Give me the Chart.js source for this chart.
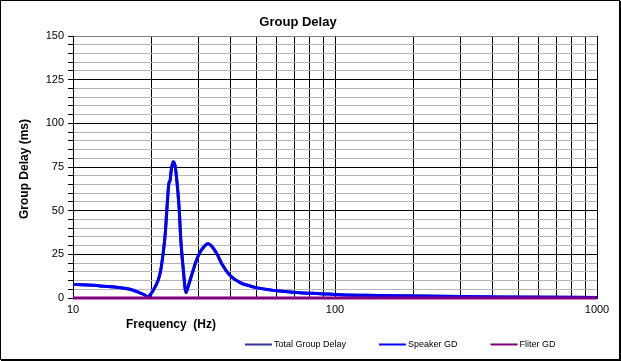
<!DOCTYPE html>
<html>
<head>
<meta charset="utf-8">
<script src="https://cdn.jsdelivr.net/npm/chart.js@4.4.1/dist/chart.umd.min.js"></script>
<style>
	body { margin: 0; background: #fff; }
	#wrap {
		position: absolute;
		left: 0;
		top: 0;
		width: 618px;
		height: 358px;
		border: 1px solid #000;
		box-shadow: 1px 1px 0 #000;
		background: #fff;
	}
	canvas { display: block; }
</style>
</head>
<body>
<div id="wrap"><canvas id="chartGroupDelay" width="618" height="358"></canvas></div>
<script>
const CHART_TITLE = 'Group Delay';
const X_TITLE = 'Frequency  (Hz)';
const Y_TITLE = 'Group Delay (ms)';

const FREQ_HZ = [
	10, 12.7, 16.5, 18.0, 18.8, 19.3, 19.7, 20.6, 21.5, 22.1,
	22.5, 22.85, 23.25, 23.45, 23.7, 24.1, 24.5, 24.9, 25.4, 25.8,
	26.3, 27.0, 27.5, 28.5, 29.5, 30.5, 31.9, 32.8, 33.9, 35.5,
	37.0, 39.7, 43.4, 47.4, 51.7, 61.7, 73.6, 87.7, 105, 149,
	211, 426, 1000,
];
const TOTAL_GD = [
	7.8, 6.9, 5.0, 2.9, 1.7, 0.6, 1.8, 6.5, 14, 26,
	37, 52, 66, 67, 73, 78, 76, 67.5, 52, 33,
	18, 3.2, 6.5, 14, 21, 26, 30, 31, 29.5, 25,
	19.5, 13, 8.8, 6.9, 5.5, 4.0, 3.0, 2.5, 1.9, 1.5,
	1.1, 0.6, 0.3,
];
const SPEAKER_GD = [
	7.8, 6.9, 5.0, 2.9, 1.7, 0.6, 1.8, 6.5, 14, 26,
	37, 52, 66, 67, 73, 78, 76, 67.5, 52, 33,
	18, 3.2, 6.5, 14, 21, 26, 30, 31, 29.5, 25,
	19.5, 13, 8.8, 6.9, 5.5, 4.0, 3.0, 2.5, 1.9, 1.5,
	1.1, 0.6, 0.3,
];
const FILTER_GD = [
	0, 0, 0, 0, 0, 0, 0, 0, 0, 0,
	0, 0, 0, 0, 0, 0, 0, 0, 0, 0,
	0, 0, 0, 0, 0, 0, 0, 0, 0, 0,
	0, 0, 0, 0, 0, 0, 0, 0, 0, 0,
	0, 0, 0,
];

const X_GRID_HZ = [10, 20, 30, 40, 50, 60, 70, 80, 90, 100, 200, 300, 400, 500, 600, 700, 800, 900, 1000];
const X_TICK_LABELS = [10, 100, 1000];
const Y_MIN = 0;
const Y_MAX = 150;
const Y_MINOR_STEP = 5;
const Y_MAJOR_STEP = 25;

Chart.defaults.font.family = 'Arial, "Liberation Sans", sans-serif';
Chart.defaults.color = '#000';

function toPoints(values) {
	return FREQ_HZ.map((f, i) => ({ x: f, y: values[i] }));
}

// titles and legend placed like the Excel original
const excelTextPlugin = {
	id: 'excelText',
	afterDraw(chart) {
		const { ctx, chartArea } = chart;
		ctx.save();
		ctx.fillStyle = '#000';
		ctx.textAlign = 'center';
		ctx.textBaseline = 'middle';
		ctx.font = 'bold 13px Arial, "Liberation Sans", sans-serif';
		ctx.fillText(CHART_TITLE, chart.width / 2 - 12, 21);
		ctx.font = 'bold 12px Arial, "Liberation Sans", sans-serif';
		ctx.fillText(X_TITLE, chartArea.left + 98, chartArea.bottom + 27);
		ctx.translate(24, (chartArea.top + chartArea.bottom) / 2 + 2);
		ctx.rotate(-Math.PI / 2);
		ctx.fillText(Y_TITLE, 0, 0);
		ctx.restore();

		ctx.save();
		ctx.font = '9px Arial, "Liberation Sans", sans-serif';
		ctx.textAlign = 'left';
		ctx.textBaseline = 'middle';
		let x = 244;
		const y = chartArea.bottom + 46.5;
		chart.data.datasets.forEach(ds => {
			ctx.strokeStyle = ds.borderColor;
			ctx.lineWidth = 2;
			ctx.beginPath();
			ctx.moveTo(x, y);
			ctx.lineTo(x + 27, y);
			ctx.stroke();
			ctx.fillStyle = '#000';
			ctx.fillText(ds.label, x + 29, y);
			x += 29 + ctx.measureText(ds.label).width + 33;
		});
		ctx.restore();
	},
};

const LINE_BASE = {
	fill: false,
	pointRadius: 0,
	borderWidth: 3,
	clip: 3,
	cubicInterpolationMode: 'monotone',
};

const chartGroupDelay = new Chart(document.querySelector('#chartGroupDelay'), {
	type: 'line',
	data: {
		datasets: [
			{ ...LINE_BASE, label: 'Total Group Delay', data: toPoints(TOTAL_GD), borderColor: '#333399', order: 2 },
			{ ...LINE_BASE, label: 'Speaker GD', data: toPoints(SPEAKER_GD), borderColor: '#0000FF', order: 1 },
			{ ...LINE_BASE, label: 'Fliter GD', data: toPoints(FILTER_GD), borderColor: '#800080', order: 0 },
		],
	},
	options: {
		responsive: false,
		animation: false,
		devicePixelRatio: 1,
		layout: {
			padding: { left: 0, right: 22, top: 35, bottom: 41 },
		},
		scales: {
			x: {
				type: 'logarithmic',
				min: 10,
				max: 1000,
				afterBuildTicks: scale => {
					scale.ticks = X_GRID_HZ.map(v => ({ value: v }));
				},
				afterFit: scale => {
					scale.height = 20;
				},
				ticks: {
					autoSkip: false,
					maxRotation: 0,
					padding: 5,
					font: { size: 11 },
					callback: value => (X_TICK_LABELS.includes(value) ? String(value) : ''),
				},
				grid: {
					color: '#000',
					drawTicks: false,
				},
				border: { color: '#000' },
			},
			y: {
				min: Y_MIN,
				max: Y_MAX,
				afterFit: scale => {
					scale.width = 72;
				},
				ticks: {
					stepSize: Y_MINOR_STEP,
					autoSkip: false,
					padding: 4,
					font: { size: 11 },
					callback: value => (value % Y_MAJOR_STEP === 0 ? value : ''),
				},
				grid: {
					color: ctx => {
						const v = ctx.tick ? ctx.tick.value : 0;
						if (v === Y_MAX) return '#808080';
						return v % Y_MAJOR_STEP === 0 ? '#000' : '#b8b4b8';
					},
					tickColor: '#000',
					tickLength: 5,
				},
				border: { color: '#000' },
			},
		},
		plugins: {
			legend: { display: false },
			tooltip: { enabled: false },
			title: { display: false },
		},
	},
	plugins: [excelTextPlugin],
});
</script>
</body>
</html>
